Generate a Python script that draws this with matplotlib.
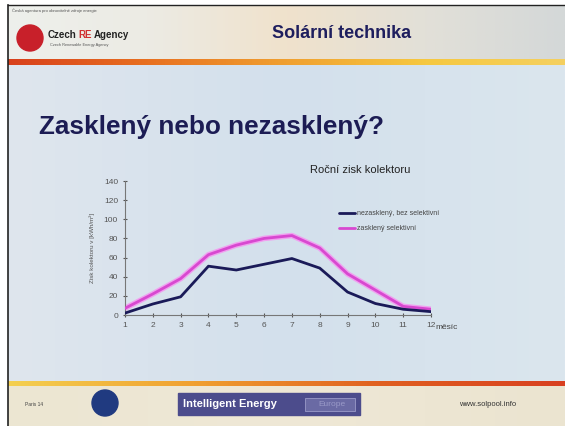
import numpy as np
import matplotlib
matplotlib.use("Agg")
import matplotlib.pyplot as plt
from matplotlib.patches import Circle, Rectangle
from matplotlib.colors import LinearSegmentedColormap

plt.rcParams['font.family'] = ['Liberation Sans', 'DejaVu Sans']

# ---- data ----
months = [1, 2, 3, 4, 5, 6, 7, 8, 9, 10, 11, 12]
unglazed = [2, 11.5, 19, 51, 47, 53, 59, 49, 24, 12, 6, 3.5]
glazed = [7, 22, 38, 63, 73, 80, 83, 70, 43, 26, 9, 6]
series_labels = ["nezasklený, bez selektivní", "zasklený selektivní"]
y_ticks = [0, 20, 40, 60, 80, 100, 120, 140]
slide_title = "Zasklený nebo nezasklený?"
header_title = "Solární technika"
chart_title = "Roční zisk kolektoru"
y_label = "Zisk kolektoru v [kWh/m²]"
x_label = "měsíc"

W, H = 565, 426
fig = plt.figure(figsize=(W / 100, H / 100), dpi=100)
fig.patch.set_facecolor("white")

# ---- slide background (pixel coordinates) ----
bg = fig.add_axes([0, 0, 1, 1])
bg.set_xlim(0, W)
bg.set_ylim(H, 0)
bg.axis("off")

grad = np.linspace(0, 1, 256).reshape(1, -1)
cm_body = LinearSegmentedColormap.from_list("b", ["#dfe6ee", "#d3e0ec", "#dbe6ee"])
bg.imshow(grad, extent=[8, W, 382, 64], aspect="auto", cmap=cm_body, zorder=0)
cm_head = LinearSegmentedColormap.from_list("h", ["#eef0ec", "#ecebe4", "#f0e2cc", "#e2e0d8", "#d4d8d8"])
bg.imshow(grad, extent=[8, W, 60, 5], aspect="auto", cmap=cm_head, zorder=0)
cm_or = LinearSegmentedColormap.from_list("o", ["#d8401c", "#e87020", "#f0a030", "#f6c840", "#f4d060"])
bg.imshow(grad, extent=[8, W, 65, 59], aspect="auto", cmap=cm_or, zorder=1)
cm_foot = LinearSegmentedColormap.from_list("f", ["#ece6d2", "#efe8d6", "#ebe4d0"])
bg.imshow(grad, extent=[8, W, H, 385], aspect="auto", cmap=cm_foot, zorder=0)
cm_or2 = LinearSegmentedColormap.from_list("o2", ["#f4d050", "#f0a030", "#e06020", "#d84020"])
bg.imshow(grad, extent=[8, W, 386, 381], aspect="auto", cmap=cm_or2, zorder=1)
bg.plot([8, 8], [5, H], color="#222222", lw=1.2, zorder=3)
bg.plot([8, W], [5, 5], color="#222222", lw=1.0, zorder=3)

# header contents
bg.text(12, 11, "Česká agentura pro obnovitelné zdroje energie", fontsize=3, color="#555555", va="center")
bg.add_patch(Circle((30, 38), 13, color="#c8202a", zorder=2))
bg.text(48, 35, "Czech", fontsize=7, fontweight="bold", color="#222222", va="center")
bg.text(78, 35, "RE", fontsize=7, fontweight="bold", color="#d03030", va="center")
bg.text(94, 35, "Agency", fontsize=7, fontweight="bold", color="#222222", va="center")
bg.text(50, 45, "Czech Renewable Energy Agency", fontsize=2.8, color="#555555", va="center")
bg.text(342, 34, header_title, fontsize=13, fontweight="bold", color="#1e1e5e",
        ha="center", va="center")

# slide title
bg.text(39, 127, slide_title, fontsize=18.8, fontweight="bold", color="#1c1c54", va="center")

# footer contents
bg.text(25, 405, "Paris 14", fontsize=3.5, color="#444444", va="center")
bg.add_patch(Circle((105, 403), 13, color="#203a80", zorder=2))
bg.add_patch(Rectangle((178, 393), 182, 22, color="#4c4c8c", zorder=2))
bg.add_patch(Rectangle((305, 398), 50, 13, facecolor="#6a6aa4", edgecolor="#9a9ac8", lw=0.6, zorder=3))
bg.text(183, 404, "Intelligent Energy", fontsize=8, fontweight="bold", color="white",
        va="center", zorder=4)
bg.text(318, 404, "Europe", fontsize=6, color="#9a9ac8", va="center", zorder=4)
bg.text(488, 405, "www.solpool.info", fontsize=5.5, color="#333333", ha="center", va="center")

# ---- chart ----
ax = fig.add_axes([125 / W, (H - 315) / H, 306 / W, 134 / H])
ax.set_facecolor("none")
ax.plot(months, glazed, color="#f0a0f0", lw=4.0, solid_capstyle="round",
        solid_joinstyle="round", zorder=2)
ax.plot(months, glazed, color="#d848d0", lw=2.0, solid_capstyle="round",
        solid_joinstyle="round", zorder=3, label=series_labels[1])
ax.plot(months, unglazed, color="#1a1a58", lw=2.0, solid_capstyle="round",
        solid_joinstyle="round", zorder=4, label=series_labels[0])
ax.set_xlim(1, 12)
ax.set_ylim(0, 140)
ax.set_xticks(months)
ax.set_yticks(y_ticks)
ax.tick_params(axis="both", labelsize=6, colors="#555555", length=3, width=0.8,
               direction="inout")
for s in ["top", "right"]:
    ax.spines[s].set_visible(False)
for s in ["left", "bottom"]:
    ax.spines[s].set_color("#777777")
    ax.spines[s].set_linewidth(0.8)
ax.set_ylabel(y_label, fontsize=4.5, color="#555555", labelpad=6)
ax.text(1.015, -0.09, x_label, transform=ax.transAxes, fontsize=6, color="#444444",
        va="center", ha="left")
fig.text(360 / W, 1 - 170 / H, chart_title, fontsize=8, color="#222222",
         ha="center", va="center")
handles, labels = ax.get_legend_handles_labels()
ax.legend([handles[1], handles[0]], [labels[1], labels[0]], loc="upper left",
          bbox_to_anchor=(0.68, 0.83), frameon=False, fontsize=5, handlelength=2.3,
          labelspacing=1.2, handletextpad=0.3, labelcolor="#444444")

fig.savefig("out.png", dpi=100)
